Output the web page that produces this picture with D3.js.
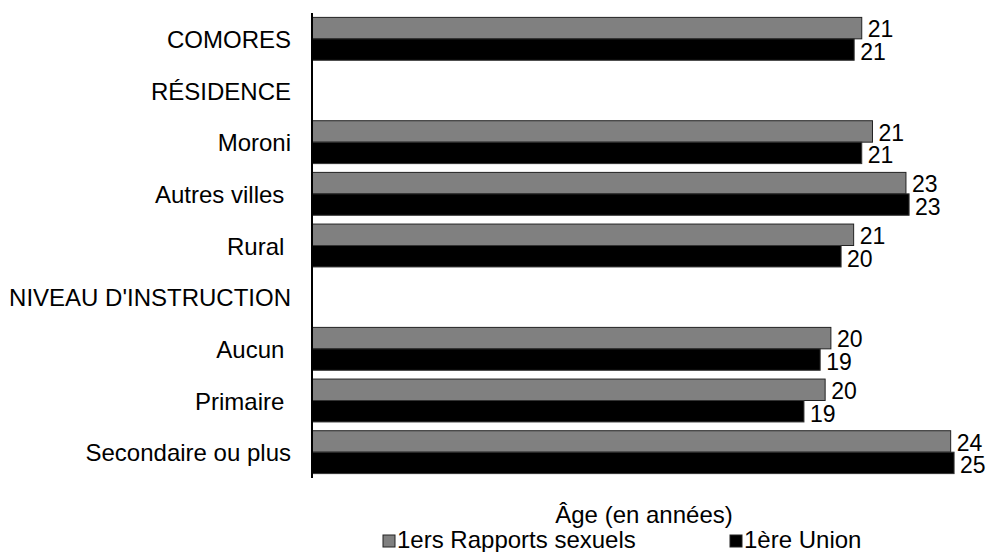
<!DOCTYPE html>
<html><head><meta charset="utf-8">
<script src="https://cdn.jsdelivr.net/npm/d3@7"></script>
<style>
html,body{margin:0;padding:0;background:#fff;}
svg{display:block;font-family:Arial,"Liberation Sans",sans-serif;}
text{white-space:pre;}
</style></head>
<body>
<svg id="chart" width="991" height="552"></svg>
<script>
const categories = ["COMORES","RÉSIDENCE","Moroni","Autres villes ","Rural ","NIVEAU D'INSTRUCTION","Aucun ","Primaire ","Secondaire ou plus"];
const rapports = [21.02, null, 21.43, 22.71, 20.71, null, 19.84, 19.62, 24.42];
const union    = [20.73, null, 21.02, 22.83, 20.23, null, 19.43, 18.81, 24.55];
const seriesNames = ["1ers Rapports sexuels","1ère Union"];
const seriesColors = ["#808080","#000000"];
const xDomain = [0, 26];
const xLabel = "Âge (en années)";

const svg = d3.select("#chart");
const x = d3.scaleLinear().domain(xDomain).range([312, 992]);
const y = d3.scaleBand().domain(categories).range([13, 478]).paddingInner(0.17).paddingOuter(0.085);
const ys = d3.scaleBand().domain(seriesNames).range([0, y.bandwidth()]);

const rows = categories.map((c,i)=>({cat:c, vals:[rapports[i], union[i]]}));

const g = svg.append("g");
rows.forEach(r=>{
  r.vals.forEach((v,j)=>{
    if(v==null) return;
    const yy = y(r.cat) + ys(seriesNames[j]);
    g.append("rect")
      .attr("x", x(0)).attr("y", yy)
      .attr("width", x(v)-x(0)).attr("height", ys.bandwidth())
      .attr("fill", seriesColors[j])
      .attr("stroke", j===0 ? "#222" : "#333").attr("stroke-width", 1);
    g.append("text")
      .attr("x", x(v)+6).attr("y", yy + ys.bandwidth()/2 + (j===0?1:2))
      .attr("dy","0.36em")
      .attr("font-size", 23).attr("fill","#000")
      .text(d3.format(".0f")(v));
  });
});

// category labels
const yAxis = d3.axisLeft(y).tickSize(0).tickPadding(21);
const ya = svg.append("g").attr("transform", `translate(${x(0)},0)`).call(yAxis);
ya.select(".domain").remove();
ya.attr("font-family", null).attr("font-size", null);
ya.selectAll("text").attr("font-size", 24).attr("fill","#000").attr("dy","0.38em");

// axis line
svg.append("line").attr("x1", x(0)).attr("x2", x(0)).attr("y1", 13).attr("y2", 478)
  .attr("stroke","#000").attr("stroke-width",2);

// axis title
svg.append("text").attr("x", 644).attr("y", 523).attr("text-anchor","middle")
  .attr("font-size", 24).text(xLabel);

// legend
const legX = [383, 730];
seriesNames.forEach((s,i)=>{
  svg.append("rect").attr("x", legX[i]).attr("y", 535).attr("width", 12).attr("height", 12)
    .attr("fill", seriesColors[i]).attr("stroke","#222").attr("stroke-width",1);
  svg.append("text").attr("x", legX[i]+14).attr("y", 548).attr("font-size", 24).text(s);
});
</script>
</body></html>
